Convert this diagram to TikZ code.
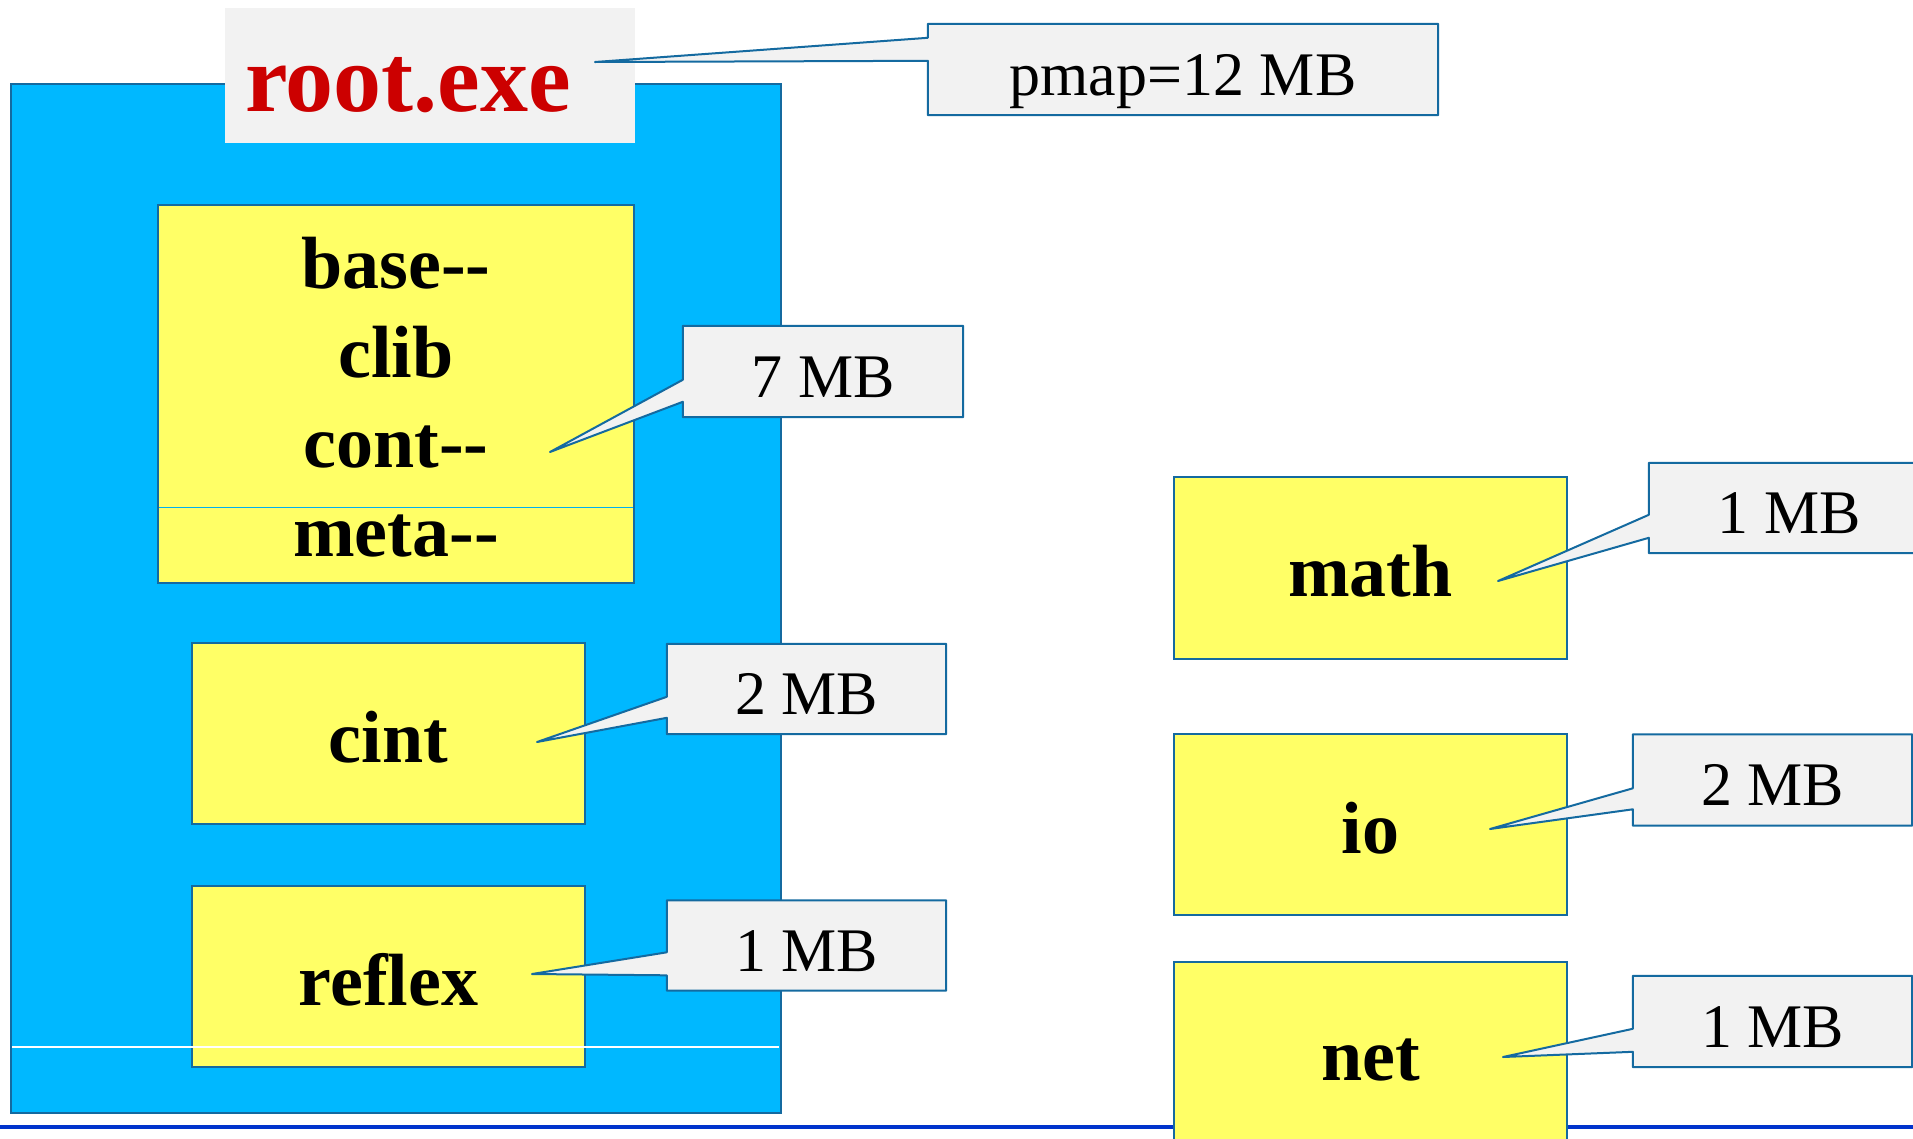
\documentclass[tikz,border=0pt]{standalone}
\usepackage{fontspec}
\setmainfont{Liberation Serif}
\usetikzlibrary{calc}
\pgfdeclarelayer{front}
\pgfsetlayers{main,front}
\definecolor{exeblue}{RGB}{0,184,255}
\definecolor{edge}{RGB}{20,106,160}
\definecolor{boxyellow}{RGB}{255,255,102}
\definecolor{calgray}{RGB}{242,242,242}
\definecolor{exered}{RGB}{204,0,0}
\definecolor{rule}{RGB}{0,51,204}
\definecolor{sepcyan}{RGB}{0,176,240}
\newcommand\calloutpath[4]{%
  \draw[cline] (#1.north west) -- (#1.north east) -- (#1.south east) -- (#1.south west)
    -- ([yshift=-#3pt]#1.north west) -- (#4) -- ([yshift=-#2pt]#1.north west) -- cycle;}
\tikzset{
  lib/.style={draw=edge, line width=2pt, fill=boxyellow, inner sep=0pt,
    font=\fontsize{74}{89}\selectfont\bfseries, text height=57pt, text depth=0pt},
  libtext/.style={anchor=base, inner sep=0pt, font=\fontsize{74}{89}\selectfont\bfseries},
  ctext/.style={inner sep=0pt, font=\fontsize{62}{70}\selectfont, text height=51pt, text depth=0pt},
  cline/.style={draw=edge, line width=2pt, fill=calgray, line join=round},
}
\begin{document}
\begin{tikzpicture}[x=1pt, y=-1pt]
\useasboundingbox (0,0) rectangle (1913,1138);
% bottom rule
\coordinate (ruleL) at (0,1127);
\coordinate (ruleR) at (1913,1127);
\draw[rule, line width=4.5pt] (ruleL) -- (ruleR);
% process box
\node[draw=edge, line width=2.5pt, fill=exeblue, minimum width=770pt, minimum height=1029pt, inner sep=0pt] (exe) at (396,598.5) {};
% root.exe title
\node[fill=calgray, minimum height=135pt, text width=410pt, align=left, inner xsep=0pt, inner ysep=0pt,
  text height=72pt, text depth=0pt, text=exered, font=\fontsize{96}{100}\selectfont\bfseries] (root) at (430,75.5) {\hspace*{20pt}root.exe};
% library boxes
\node[lib, minimum width=476pt, minimum height=378pt] (core) at (396,394) {};
\coordinate (sepL) at (159,507);
\coordinate (sepR) at (633,507);
\draw[sepcyan, line width=1pt] (sepL) -- (sepR);
\node[libtext] (tbase) at (396,288) {base\mbox{-}\mbox{-}};
\node[libtext] (tclib) at (396,377) {clib};
\node[libtext] (tcont) at (396,467) {cont\mbox{-}\mbox{-}};
\node[libtext] (tmeta) at (396,556) {meta\mbox{-}\mbox{-}};
\node[lib, minimum width=393pt, minimum height=181pt] (cint) at (388.5,733.5) {cint};
\node[lib, minimum width=393pt, minimum height=181pt] (reflex) at (388.5,976.5) {reflex};
\node[lib, minimum width=393pt, minimum height=182pt] (math) at (1370.5,568) {math};
\node[lib, minimum width=393pt, minimum height=181pt] (io) at (1370.5,824.5) {io};
\node[lib, minimum width=393pt, minimum height=180pt] (net) at (1370.5,1052) {net};
% white line across the process box
\coordinate (wL) at (12,1047);
\coordinate (wR) at (779,1047);
\draw[white, line width=1.5pt] (wL) -- (wR);
% callouts
\begin{pgfonlayer}{front}
\node[ctext, minimum width=510pt, minimum height=91pt] (cpmap) at (1183,69.5) {pmap=12 MB};
\node[ctext, minimum width=280pt, minimum height=91pt] (ccore) at (823,371.5) {7 MB};
\node[ctext, minimum width=279pt, minimum height=90pt] (ccint) at (806.5,689) {2 MB};
\node[ctext, minimum width=279pt, minimum height=90pt] (creflex) at (806.5,945.5) {1 MB};
\node[ctext, minimum width=280pt, minimum height=90pt] (cmath) at (1789,508) {1 MB};
\node[ctext, minimum width=279pt, minimum height=91pt] (cio) at (1772.5,780) {2 MB};
\node[ctext, minimum width=279pt, minimum height=91pt] (cnet) at (1772.5,1021.5) {1 MB};
\end{pgfonlayer}
\coordinate (tippmap) at (595,62);
\coordinate (tipcore) at (550,452);
\coordinate (tipcint) at (537,742);
\coordinate (tipreflex) at (532,974);
\coordinate (tipmath) at (1498,581);
\coordinate (tipio) at (1490,829);
\coordinate (tipnet) at (1503,1057);
\calloutpath{cpmap}{14}{37}{tippmap}
\calloutpath{ccore}{54}{76}{tipcore}
\calloutpath{ccint}{53}{74}{tipcint}
\calloutpath{creflex}{52}{75}{tipreflex}
\calloutpath{cmath}{52}{75}{tipmath}
\calloutpath{cio}{54}{75}{tipio}
\calloutpath{cnet}{53}{76}{tipnet}
\end{tikzpicture}
\end{document}
